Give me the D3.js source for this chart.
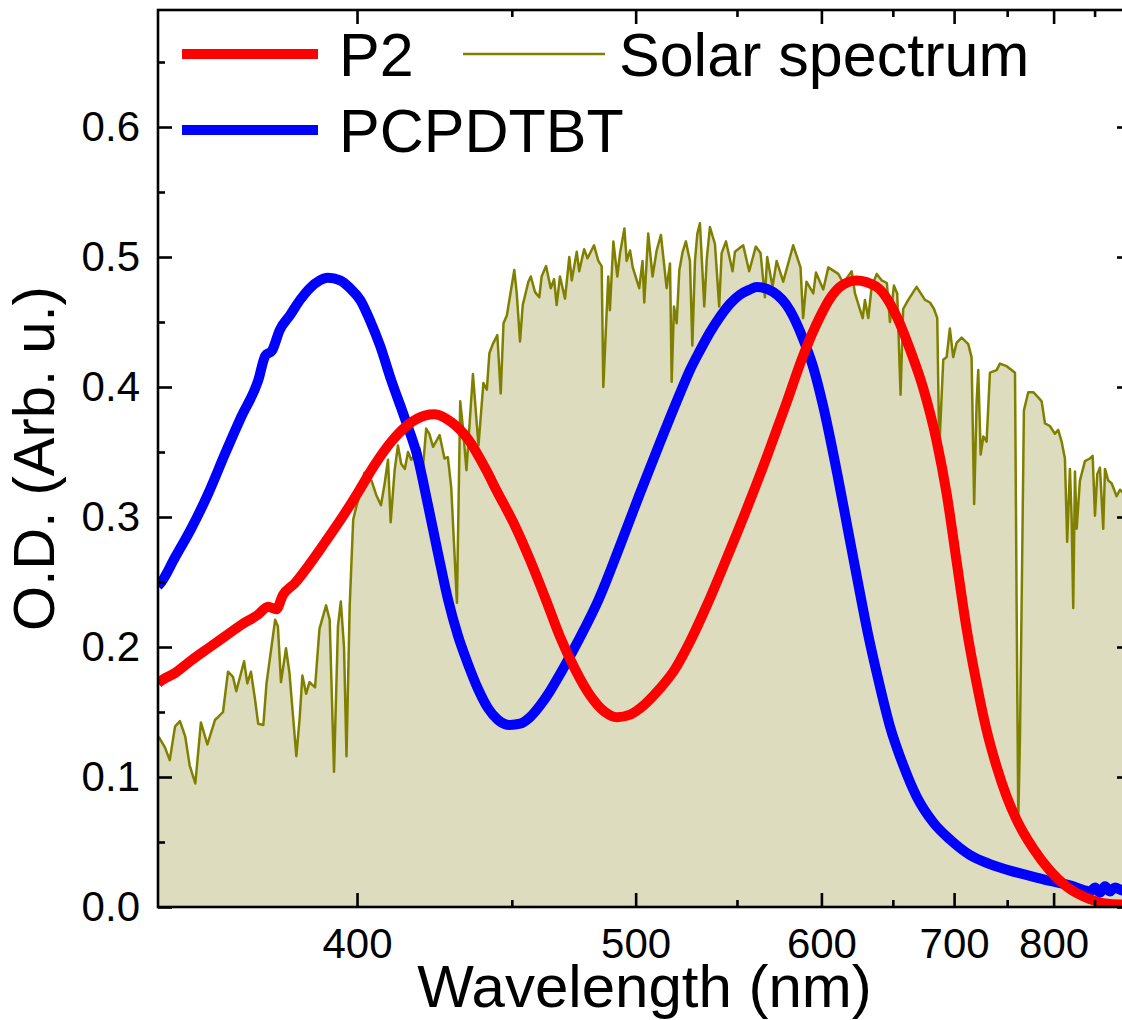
<!DOCTYPE html>
<html>
<head>
<meta charset="utf-8">
<script src="https://cdn.jsdelivr.net/npm/d3@7"></script>
<style>
  html, body { margin: 0; padding: 0; background: #fff; }
  svg { display: block; font-family: "Liberation Sans", Arial, sans-serif; }
</style>
</head>
<body>
<svg id="chart" width="1122" height="1020"></svg>
<script>
// ---------------- data ----------------
// [wavelength (nm), value]
const solarSpectrum = [
  [350.0,0.131],[350.3,0.130],[351.5,0.123],[352.6,0.113],[353.8,0.139],[354.9,0.143],[356.1,0.131],[357.1,0.109],
  [358.4,0.095],[359.7,0.142],[361.2,0.125],[363.0,0.144],[363.7,0.146],[364.9,0.150],[366.1,0.181],[367.3,0.177],
  [368.1,0.166],[370.0,0.189],[370.8,0.172],[371.7,0.181],[372.7,0.160],[373.5,0.141],[374.8,0.140],[375.6,0.172],
  [377.8,0.221],[378.5,0.216],[379.3,0.173],[380.6,0.199],[381.5,0.180],[383.3,0.116],[384.2,0.146],[384.9,0.178],
  [385.9,0.164],[386.8,0.173],[388.3,0.169],[389.5,0.214],[391.3,0.232],[392.3,0.221],[393.5,0.104],[394.6,0.216],
  [395.4,0.235],[396.3,0.200],[397.0,0.116],[397.9,0.231],[398.9,0.298],[399.8,0.308],[400.8,0.317],[402.1,0.334],
  [403.0,0.328],[404.2,0.328],[405.6,0.317],[407.0,0.309],[408.1,0.326],[409.1,0.344],[409.9,0.296],[411.1,0.336],
  [412.1,0.355],[413.1,0.341],[414.2,0.337],[415.2,0.350],[416.2,0.344],[418.8,0.353],[419.8,0.336],[420.9,0.368],
  [421.9,0.364],[423.1,0.354],[425.2,0.363],[426.8,0.345],[427.9,0.346],[429.0,0.323],[430.9,0.234],[432.0,0.389],
  [432.9,0.369],[434.1,0.336],[435.2,0.373],[436.3,0.410],[438.2,0.355],[439.9,0.403],[441.1,0.398],[442.0,0.426],
  [443.2,0.433],[444.8,0.440],[446.0,0.395],[447.0,0.449],[448.2,0.455],[450.9,0.490],[451.8,0.472],[453.0,0.435],
  [454.0,0.463],[456.1,0.481],[457.0,0.485],[458.6,0.473],[460.2,0.469],[461.1,0.485],[462.8,0.493],[464.6,0.476],
  [465.9,0.483],[466.9,0.463],[468.2,0.485],[470.2,0.468],[471.9,0.500],[472.9,0.482],[474.9,0.504],[475.9,0.489],
  [477.9,0.506],[479.3,0.499],[482.0,0.509],[483.8,0.497],[485.2,0.493],[485.9,0.400],[488.0,0.485],[488.7,0.459],
  [490.2,0.512],[491.9,0.485],[493.1,0.503],[495.0,0.522],[496.0,0.497],[497.5,0.505],[498.7,0.492],[501.6,0.476],
  [503.1,0.497],[503.9,0.465],[505.7,0.518],[507.7,0.485],[509.6,0.505],[511.6,0.517],[514.3,0.476],[515.9,0.495],
  [516.7,0.404],[517.8,0.462],[519.1,0.449],[520.4,0.490],[522.0,0.504],[523.6,0.512],[525.6,0.497],[526.8,0.432],
  [528.1,0.497],[529.3,0.518],[530.6,0.526],[532.8,0.462],[534.1,0.499],[535.7,0.523],[538.3,0.510],[540.5,0.462],
  [541.8,0.503],[544.1,0.512],[547.6,0.489],[548.9,0.504],[553.4,0.509],[556.7,0.489],[560.4,0.508],[563.1,0.503],
  [565.6,0.469],[566.9,0.500],[570.0,0.477],[572.4,0.497],[576.3,0.481],[582.3,0.509],[586.8,0.492],[588.4,0.453],
  [590.5,0.481],[594.8,0.472],[596.5,0.488],[601.2,0.475],[604.5,0.492],[611.1,0.487],[614.5,0.480],[620.2,0.489],
  [622.5,0.472],[627.9,0.453],[629.5,0.467],[631.9,0.453],[634.3,0.477],[638.0,0.487],[641.7,0.482],[645.5,0.480],
  [647.8,0.450],[650.8,0.478],[653.3,0.472],[655.9,0.394],[657.9,0.460],[661.9,0.467],[668.5,0.477],[675.3,0.467],
  [679.4,0.465],[682.8,0.460],[685.5,0.453],[687.2,0.352],[690.6,0.421],[693.5,0.423],[696.3,0.445],[699.2,0.423],
  [702.2,0.434],[706.7,0.438],[712.7,0.433],[715.7,0.423],[718.1,0.310],[720.4,0.389],[721.9,0.413],[724.2,0.348],
  [726.7,0.362],[729.8,0.358],[733.0,0.411],[739.5,0.413],[742.8,0.418],[749.5,0.416],[754.5,0.413],[758.0,0.411],
  [759.7,0.230],[761.4,0.068],[763.1,0.129],[764.9,0.234],[767.3,0.382],[771.9,0.396],[777.3,0.396],[782.7,0.392],
  [786.5,0.389],[790.2,0.372],[795.8,0.370],[801.5,0.364],[805.3,0.367],[809.3,0.358],[813.2,0.345],[815.9,0.281],
  [819.2,0.337],[821.3,0.298],[823.2,0.230],[825.3,0.335],[827.4,0.291],[831.4,0.328],[837.7,0.343],[844.0,0.345],
  [847.5,0.347],[850.5,0.301],[853.5,0.333],[857.0,0.338],[861.4,0.291],[863.7,0.337],[868.1,0.328],[872.7,0.326],
  [879.6,0.316],[884.2,0.321],[890.0,0.318],[895.0,0.322],[900.0,0.315]
];

const p2Absorbance = [
  [350.0,0.172],[350.3,0.173],[353.8,0.180],[357.6,0.190],[361.4,0.199],[365.3,0.208],[369.3,0.217],[373.5,0.225],
  [376.0,0.231],[378.1,0.229],[379.8,0.240],[382.9,0.249],[386.4,0.262],[390.9,0.280],[395.6,0.299],[400.3,0.319],
  [405.1,0.340],[410.1,0.358],[415.2,0.371],[420.4,0.378],[423.6,0.379],[429.0,0.373],[434.6,0.360],[440.9,0.336],
  [444.6,0.320],[450.5,0.296],[456.7,0.267],[462.6,0.237],[468.2,0.208],[474.2,0.183],[480.3,0.163],[486.6,0.150],
  [491.8,0.146],[497.5,0.148],[504.2,0.156],[511.1,0.168],[518.3,0.183],[525.6,0.204],[534.1,0.232],[544.4,0.268],
  [555.3,0.306],[566.6,0.346],[578.3,0.388],[588.4,0.424],[599.1,0.454],[605.6,0.468],[612.2,0.477],[623.4,0.482],
  [638.0,0.477],[653.5,0.453],[663.2,0.429],[673.9,0.399],[685.1,0.358],[693.5,0.318],[702.2,0.266],[710.8,0.216],
  [720.4,0.172],[729.8,0.136],[739.5,0.108],[749.5,0.085],[759.7,0.067],[777.3,0.045],[795.8,0.028],[814.6,0.016],
  [844.0,0.006],[861.4,0.003],[885.6,0.002],[900.0,0.002]
];

const pcpdtbtAbsorbance = [
  [350.0,0.247],[350.3,0.248],[353.8,0.269],[357.6,0.292],[361.4,0.318],[365.3,0.348],[369.3,0.377],[373.5,0.405],
  [375.3,0.424],[377.0,0.428],[379.0,0.444],[381.6,0.455],[384.3,0.467],[386.9,0.476],[389.6,0.482],[391.8,0.484],
  [395.2,0.482],[398.0,0.476],[400.9,0.467],[403.8,0.451],[406.7,0.432],[410.1,0.405],[414.2,0.376],[418.2,0.346],
  [421.4,0.310],[424.7,0.272],[427.9,0.237],[431.2,0.209],[434.6,0.187],[438.0,0.168],[441.5,0.153],[445.0,0.144],
  [449.3,0.140],[453.0,0.141],[456.7,0.146],[460.5,0.155],[464.3,0.166],[468.2,0.179],[472.2,0.193],[478.3,0.215],
  [483.8,0.236],[493.1,0.278],[501.9,0.318],[511.1,0.357],[520.7,0.395],[525.6,0.413],[530.6,0.428],[535.7,0.442],
  [540.9,0.454],[546.2,0.464],[551.6,0.471],[557.1,0.475],[560.9,0.477],[570.4,0.473],[580.3,0.459],[588.4,0.437],
  [594.8,0.415],[601.2,0.385],[610.8,0.331],[617.5,0.291],[624.5,0.250],[631.7,0.210],[638.9,0.176],[647.8,0.139],
  [658.0,0.109],[668.5,0.085],[682.2,0.065],[696.3,0.052],[714.2,0.040],[733.0,0.033],[752.8,0.028],[773.7,0.024],
  [795.8,0.020],[819.2,0.0167],[844.0,0.012],[850.5,0.015],[857.0,0.011],[863.7,0.016],[870.4,0.012],[877.3,0.015],
  [885.6,0.013],[893.0,0.012],[900.0,0.014]
];

const xMajorTicks = [400, 500, 600, 700, 800];
const xMinorTicks = [450, 550, 650, 750, 850];
const yMajorTicks = [0.0, 0.1, 0.2, 0.3, 0.4, 0.5, 0.6];
const yMinorTicks = [0.05, 0.15, 0.25, 0.35, 0.45, 0.55, 0.65];

const legendItems = [
  { label: "P2", color: "#ff0000", width: 10 },
  { label: "PCPDTBT", color: "#0000ff", width: 10 },
  { label: "Solar spectrum", color: "#808000", width: 2.5 }
];

// ---------------- layout ----------------
const HC = 1239.84;             // eV·nm : axis is linear in photon energy
const plotLeft = 158, plotRight = 1131, plotTop = 10, plotBottom = 907;

const xE = d3.scaleLinear().domain([HC / 350, HC / 900]).range([plotLeft, plotRight]);
const xWl = wl => xE(HC / wl);
const yS = d3.scaleLinear().domain([0, 0.69]).range([plotBottom, plotTop]);

const svg = d3.select("#chart");

svg.append("defs").append("clipPath").attr("id", "plotclip")
  .append("rect").attr("x", plotLeft).attr("y", plotTop)
  .attr("width", plotRight - plotLeft).attr("height", plotBottom - plotTop);

const plot = svg.append("g").attr("clip-path", "url(#plotclip)");

// solar spectrum area + line
plot.append("path")
  .datum(solarSpectrum)
  .attr("fill", "#dddcbf")
  .attr("d", d3.area().x(d => xWl(d[0])).y0(yS(0)).y1(d => yS(d[1])));

plot.append("path")
  .datum(solarSpectrum)
  .attr("fill", "none")
  .attr("stroke", "#808000")
  .attr("stroke-width", 2.5)
  .attr("stroke-linejoin", "round")
  .attr("d", d3.line().x(d => xWl(d[0])).y(d => yS(d[1])));

const smooth = d3.line().x(d => xWl(d[0])).y(d => yS(d[1])).curve(d3.curveMonotoneX);

plot.append("path")
  .datum(pcpdtbtAbsorbance)
  .attr("fill", "none").attr("stroke", "#0000ff").attr("stroke-width", 10)
  .attr("stroke-linejoin", "round")
  .attr("d", smooth);

plot.append("path")
  .datum(p2Absorbance)
  .attr("fill", "none").attr("stroke", "#ff0000").attr("stroke-width", 10)
  .attr("stroke-linejoin", "round")
  .attr("d", smooth);

// ---------------- axes ----------------
function styleAxis(g, fontSize) {
  g.select(".domain").remove();
  g.selectAll(".tick line").attr("stroke", "#000").attr("stroke-width", 2.6);
  g.selectAll(".tick text").attr("fill", "#000")
    .style("font-size", fontSize + "px")
    .style("font-family", "'Liberation Sans', Arial, sans-serif");
}

const eMajor = xMajorTicks.map(w => HC / w);
const eMinor = xMinorTicks.map(w => HC / w);

svg.append("g").attr("transform", `translate(0,${plotBottom})`)
  .call(d3.axisBottom(xE).tickValues(eMajor).tickFormat(e => Math.round(HC / e))
    .tickSizeInner(-14).tickSizeOuter(0).tickPadding(21))
  .call(g => styleAxis(g, 42));
svg.append("g").attr("transform", `translate(0,${plotBottom})`)
  .call(d3.axisBottom(xE).tickValues(eMinor).tickFormat(() => "").tickSizeInner(-7).tickSizeOuter(0))
  .call(g => styleAxis(g, 42));

svg.append("g").attr("transform", `translate(0,${plotTop})`)
  .call(d3.axisTop(xE).tickValues(eMajor).tickFormat(() => "").tickSizeInner(-14).tickSizeOuter(0))
  .call(g => styleAxis(g, 42));
svg.append("g").attr("transform", `translate(0,${plotTop})`)
  .call(d3.axisTop(xE).tickValues(eMinor).tickFormat(() => "").tickSizeInner(-7).tickSizeOuter(0))
  .call(g => styleAxis(g, 42));

svg.append("g").attr("transform", `translate(${plotLeft},0)`)
  .call(d3.axisLeft(yS).tickValues(yMajorTicks).tickFormat(d3.format(".1f"))
    .tickSizeInner(-14).tickSizeOuter(0).tickPadding(18))
  .call(g => styleAxis(g, 42));
svg.append("g").attr("transform", `translate(${plotLeft},0)`)
  .call(d3.axisLeft(yS).tickValues(yMinorTicks).tickFormat(() => "").tickSizeInner(-7).tickSizeOuter(0))
  .call(g => styleAxis(g, 42));

svg.append("g").attr("transform", `translate(${plotRight},0)`)
  .call(d3.axisRight(yS).tickValues(yMajorTicks).tickFormat(() => "").tickSizeInner(-14).tickSizeOuter(0))
  .call(g => styleAxis(g, 42));
svg.append("g").attr("transform", `translate(${plotRight},0)`)
  .call(d3.axisRight(yS).tickValues(yMinorTicks).tickFormat(() => "").tickSizeInner(-7).tickSizeOuter(0))
  .call(g => styleAxis(g, 42));

svg.append("rect")
  .attr("x", plotLeft).attr("y", plotTop).attr("width", plotRight - plotLeft).attr("height", plotBottom - plotTop)
  .attr("fill", "none").attr("stroke", "#000").attr("stroke-width", 2.6);

// axis titles
svg.append("text")
  .attr("x", (plotLeft + plotRight) / 2).attr("y", 1007)
  .attr("text-anchor", "middle").style("font-size", "60px").attr("fill", "#000")
  .text("Wavelength (nm)");

svg.append("text")
  .attr("transform", `translate(54,${(plotTop + plotBottom) / 2}) rotate(-90)`)
  .attr("text-anchor", "middle").style("font-size", "58px").attr("fill", "#000")
  .text("O.D. (Arb. u.)");

// ---------------- legend ----------------
const legendPos = [
  { x1: 182, x2: 318, y: 54, tx: 339, ty: 76 },
  { x1: 182, x2: 318, y: 130, tx: 339, ty: 152 },
  { x1: 463, x2: 605, y: 54, tx: 619, ty: 76 }
];
const lg = svg.append("g");
legendItems.forEach((item, i) => {
  const p = legendPos[i];
  lg.append("line").attr("x1", p.x1).attr("x2", p.x2).attr("y1", p.y).attr("y2", p.y)
    .attr("stroke", item.color).attr("stroke-width", item.width);
  lg.append("text").attr("x", p.tx).attr("y", p.ty)
    .style("font-size", "61px").attr("fill", "#000").text(item.label);
});
</script>
</body>
</html>
